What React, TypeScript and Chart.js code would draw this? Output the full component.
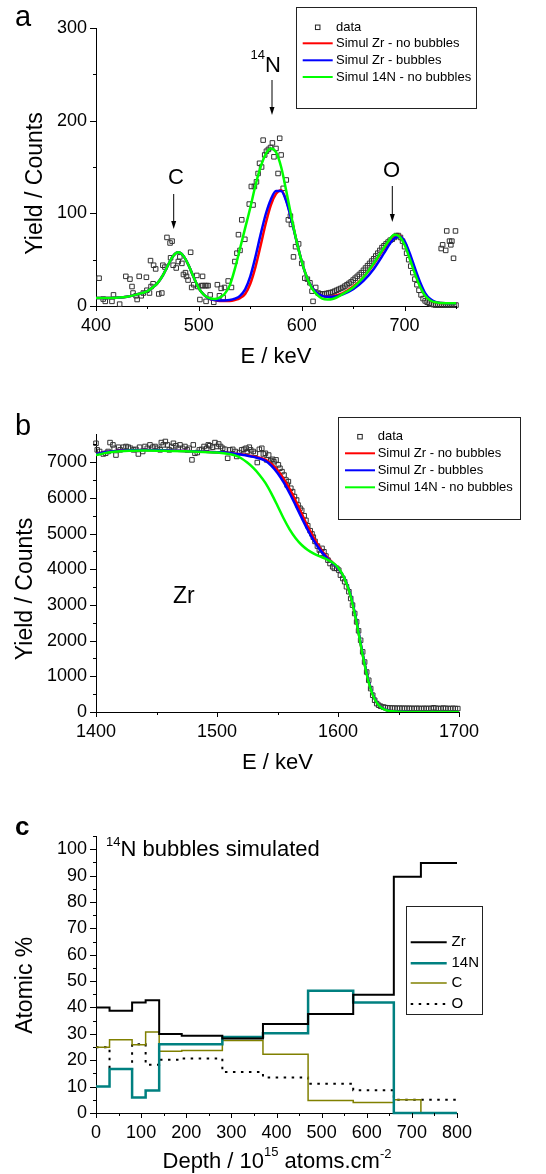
import React, { useEffect, useRef } from "react";
import { Chart, registerables } from "chart.js";

Chart.register(...registerables);

const FONT = "'Liberation Sans', Arial, Helvetica, sans-serif";

// ---------------- Panel a : yield vs energy (light elements) ----------------
const aScatterE = [
  403, 407, 409, 415.5, 417, 423, 429, 433, 435, 436,
  439, 440, 442, 444, 446, 449, 449.5, 452, 453, 453.5,
  455.5, 456, 458, 461, 464, 465, 467, 469, 472, 472.5,
  474, 475, 478, 480, 481.5, 483.5, 485, 487, 488, 489.5,
  492, 493, 495, 498, 499, 501, 502.6, 503.6, 504, 506,
  507, 507.5, 509, 511, 514.5, 518, 520, 521.7, 523.6, 525,
  528.5, 531.7, 535, 537, 538.5, 540, 541.7, 544.7, 549, 551,
  552.7, 554, 556, 557.6, 559, 561, 562.5, 564, 565.7, 567.6,
  569.6, 571.5, 573, 575, 577, 578.6, 580, 582, 585, 587,
  589, 590, 592, 594, 597, 600, 603, 605.5, 608, 610,
  611, 613.6, 616,
];
const aScatterY = [
  30, 7.5, 5, 5, 12, 2, 32, 29, 21, 14,
  11, 7, 32, 11, 14, 31, 17, 14, 49, 21,
  24, 44, 40, 13, 14, 44, 42, 74, 68, 52,
  70, 44, 41, 48, 53, 46, 34, 36, 32, 28,
  58, 20, 23, 33, 21, 7, 22, 32, 22, 22,
  5, 22, 22, 12, 4, 23, 11, 19, 9, 20,
  27, 20, 48, 57, 77, 60, 93, 72, 110, 129,
  109, 129, 134, 143, 154, 150, 179, 163, 167, 169,
  171, 176, 161, 170, 143, 181, 163, 127, 136, 93,
  97, 88, 53, 64, 67, 46, 30, 29, 25, 16,
  5, 20, 14,
];
const aDenseE = [
  618, 620, 622, 624, 626, 628, 630, 632, 634, 636, 638, 640, 642, 644, 646, 648, 650,
  652, 654, 656, 658, 660, 662, 664, 666, 668, 670, 672, 674, 676, 678, 680, 682, 684,
  686, 688, 690, 692, 694, 696, 698, 700, 702, 704, 706, 708, 710, 712, 714, 716, 718,
  720, 722, 724, 726, 728, 730, 732, 734, 736, 738, 740, 742, 744, 746, 748, 750,
];
const aDenseY = [
  13, 13, 13, 13.5, 14, 14.5, 15, 16, 17, 18, 19, 20, 21.5, 23, 24.5, 26, 28,
  30, 32, 34, 36, 38.5, 41, 43.5, 46, 48.5, 51, 54, 57, 60, 63, 65, 67, 69,
  71, 72, 74, 76, 76, 74, 70, 64, 57, 50, 43, 36, 29, 23, 17, 12, 8,
  5.5, 4, 3, 2, 1.5, 1, 1, 1, 1, 1, 1, 1, 1, 1, 1, 1,
];
const aRightE = [735.6, 737, 740, 741, 743.7, 745, 746, 747.6, 749.5];
const aRightY = [62, 66, 60, 81, 70, 66, 70, 51.5, 81];

const aCurveE = [
  400, 410, 420, 430, 440, 450, 455, 460, 465, 470, 475, 480, 485, 490, 495,
  500, 505, 510, 515, 520, 525, 530, 535, 540, 545, 550, 555, 560, 565, 570,
  575, 580, 585, 590, 595, 600, 605, 610, 615, 620, 625, 630, 640, 650, 660,
  670, 680, 685, 690, 695, 700, 705, 710, 715, 720, 725, 730, 740, 750,
];
const aGreen = [
  8.5, 8.5, 9, 10, 12.5, 16, 20, 25, 33, 44, 54, 58, 54, 44, 31,
  19, 12, 8.5, 7.5, 9, 13, 22, 40, 62, 84, 106, 130, 150, 164, 170,
  166, 150, 124, 96, 70, 48, 31, 19, 12, 8, 7, 7.5, 13, 20, 31,
  46, 63, 71, 77, 75, 66, 51, 35, 21, 11, 6, 4, 3, 3,
];
const aRed = [
  8.5, 8.5, 9, 10, 12.5, 16, 20, 25, 33, 44, 54, 58, 54, 44, 31,
  19, 12, 8, 6.5, 5.5, 5.5, 5.5, 6.5, 8.5, 13, 24, 42, 65, 89, 109,
  121, 125, 114, 94, 70, 48, 31, 20, 14, 11, 10, 10.5, 14, 21, 31,
  45, 62, 70, 76, 76, 68, 53, 37, 22, 12, 6.5, 4, 3, 3,
];
const aBlue = [
  8.5, 8.5, 9, 10, 12.5, 16, 20, 25, 33, 44, 54, 58, 54, 44, 31,
  19, 12, 8, 6.5, 6, 6, 6.5, 8, 11, 18, 32, 53, 77, 99, 115,
  124, 124, 113, 93, 70, 48, 31, 20, 14, 11, 10, 10, 12.5, 18, 27,
  40, 57, 66, 73, 75, 70, 57, 41, 26, 14, 7.5, 4.5, 3, 3,
];
const aXMajor = [400, 500, 600, 700];
const aXMinor = [450, 550, 650, 750];
const aYMajor = [0, 100, 200, 300];
const aYMinor = [50, 150, 250];

// ---------------- Panel b : yield vs energy (Zr edge) ----------------
const bDataE = [
  1400, 1401, 1403, 1406, 1408, 1410, 1411.6, 1414, 1415, 1416.5,
  1418.5, 1420, 1422.6, 1424.8, 1426.7, 1428.6, 1431, 1433, 1435, 1436,
  1438.6, 1440.5, 1442.4, 1444.6, 1446.8, 1448.8, 1450.7, 1453, 1454, 1455.6,
  1457.3, 1459, 1460.6, 1462.5, 1464, 1466, 1468, 1469.4, 1471.6, 1473.5,
  1475.5, 1477, 1479.3, 1480.4, 1481.8, 1483.7, 1485.4, 1487.3, 1489.3, 1491.5,
  1492.8, 1494, 1496.4, 1498.3, 1499.7, 1501.4, 1503, 1504.7, 1506.6, 1508.8,
  1510.7, 1513, 1515, 1516.3, 1518.5, 1520.4, 1522.3, 1524, 1525, 1526.7,
  1527.8, 1530, 1531.7, 1533.3, 1535, 1537, 1538.3, 1540, 1541, 1542.7,
  1544.4, 1546, 1547, 1548.8, 1550.7, 1552, 1553.7, 1555.4, 1557, 1558,
  1559, 1561, 1562.5, 1564, 1565.8, 1567, 1568.6, 1570, 1572, 1573.5,
  1575, 1577, 1578.5, 1579.6, 1581, 1583, 1584.6, 1585.7, 1586.8, 1588.4,
  1590, 1591.7, 1593.4, 1595.6, 1597, 1599, 1600.6, 1602, 1604, 1605.5,
  1607, 1609, 1610.5, 1612, 1613.8, 1615.4, 1617, 1618.7, 1620.4, 1622,
  1623.7, 1625.4, 1627, 1628.7, 1630.3, 1632, 1633.6, 1635.3, 1637.5,
  1639, 1641, 1643, 1645, 1647, 1649, 1651, 1653, 1655, 1657, 1659, 1661, 1663,
  1665, 1667, 1669, 1671, 1673, 1675, 1677, 1679, 1681, 1683, 1685, 1687, 1689,
  1691, 1693, 1695, 1697, 1699,
];
const bDataY = [
  7530, 7345, 7300, 7230, 7250, 7300, 7550, 7485, 7390, 7200,
  7420, 7345, 7420, 7440, 7420, 7390, 7345, 7360, 7230, 7420,
  7300, 7440, 7390, 7485, 7420, 7440, 7390, 7345, 7550, 7485,
  7580, 7485, 7345, 7440, 7530, 7460, 7390, 7485, 7390, 7440,
  7345, 7390, 7065, 7485, 7250, 7270, 7345, 7360, 7440, 7390,
  7485, 7460, 7420, 7550, 7440, 7510, 7440, 7390, 7360, 7110,
  7345, 7360, 7300, 7160, 7270, 7345, 7360, 7390, 7300, 7420,
  7345, 7300, 7250, 6990, 7360, 7390, 7230, 7250, 7065, 7200,
  7045, 7080, 7015, 7065, 6925, 6830, 6735, 6640, 6500, 6360,
  6455, 6270, 6175, 6035, 5940, 5800, 5710, 5650, 5500, 5370,
  5220, 5080, 4990, 4900, 4780, 4650, 4540, 4445, 4585, 4490,
  4370, 4255, 4160, 4070, 4025, 4025, 3975, 3835, 3740, 3650,
  3510, 3370, 3180, 2995, 2760, 2525, 2275, 2010, 1685, 1400,
  1120, 890, 655, 470, 330, 235, 190, 160, 140,
  125, 118, 112, 110, 108, 105, 108, 104, 106, 103, 105, 102, 100,
  104, 101, 99, 103, 100, 102, 98, 118, 105, 100, 98, 110, 102,
  100, 97, 104, 98, 96,
];
const bZrE = [
  1400, 1410, 1420, 1430, 1440, 1460, 1480, 1500, 1510, 1520, 1530, 1540, 1545,
  1550, 1555, 1560, 1565, 1570, 1575, 1580, 1585, 1590, 1595, 1600, 1605, 1610,
  1615, 1620, 1625, 1630, 1635, 1640, 1645, 1650, 1660, 1680, 1700,
];
const bRed = [
  7230, 7290, 7320, 7335, 7340, 7330, 7310, 7280, 7260, 7220, 7160, 7070, 6950,
  6780, 6540, 6250, 5920, 5560, 5200, 4880, 4600, 4380, 4200, 4030, 3760, 3300,
  2580, 1680, 900, 390, 150, 55, 20, 8, 3, 0, 0,
];
const bBlue = [
  7230, 7290, 7320, 7335, 7340, 7330, 7310, 7280, 7260, 7215, 7150, 7040, 6900,
  6700, 6440, 6130, 5790, 5440, 5100, 4800, 4550, 4350, 4190, 4030, 3770, 3320,
  2600, 1700, 910, 395, 150, 55, 20, 8, 3, 0, 0,
];
const bGreenE = [
  1400, 1410, 1420, 1430, 1440, 1460, 1480, 1500, 1510, 1515, 1520, 1525, 1530,
  1535, 1540, 1545, 1550, 1555, 1560, 1565, 1570, 1575, 1580, 1585, 1590, 1595,
  1600, 1605, 1610, 1615, 1620, 1625, 1630, 1635, 1640, 1645, 1650, 1660, 1680, 1700,
];
const bGreen = [
  7200, 7270, 7310, 7320, 7325, 7315, 7300, 7270, 7230, 7190, 7110, 6990, 6840,
  6650, 6420, 6120, 5780, 5430, 5120, 4870, 4680, 4540, 4440, 4360, 4290, 4200,
  4050, 3770, 3300, 2570, 1660, 880, 380, 145, 50, 18, 7, 3, 0, 0,
];
const bXMajor = [1400, 1500, 1600, 1700];
const bXMinor = [1450, 1550, 1650];
const bYMajor = [0, 1000, 2000, 3000, 4000, 5000, 6000, 7000];
const bYMinor = [500, 1500, 2500, 3500, 4500, 5500, 6500, 7500];

// ---------------- Panel c : depth profile ----------------
const cEdges = [0, 30, 80, 110, 140, 190, 280, 370, 470, 570, 660, 720, 800];
const cZr = [40.0, 38.8, 41.9, 42.7, 29.9, 29.3, 28.2, 33.7, 37.5, 44.8, 89.6, 94.8];
const cN14 = [10.0, 16.7, 5.9, 8.5, 26.1, 26.1, 28.8, 30.2, 46.3, 41.9, 0, 0];
const cC = [24.9, 27.8, 25.9, 30.7, 23.4, 23.7, 27.5, 22.3, 4.7, 4.0, 5.0, 0];
const cO = [24.9, 16.7, 26.1, 18.3, 20.2, 20.7, 15.5, 13.5, 11.1, 8.6, 5.0, 5.0];
const cXMajor = [0, 100, 200, 300, 400, 500, 600, 700, 800];
const cXMinor = [50, 150, 250, 350, 450, 550, 650, 750];
const cYMajor = [0, 10, 20, 30, 40, 50, 60, 70, 80, 90, 100];
const cYMinor = [5, 15, 25, 35, 45, 55, 65, 75, 85, 95, 105];

// ---------------- helpers ----------------
const pts = (xs: number[], ys: number[]) => xs.map((x, i) => ({ x, y: ys[i] }));
const stepPts = (edges: number[], vals: number[]) => {
  const out: { x: number; y: number }[] = [];
  vals.forEach((v, i) => {
    out.push({ x: edges[i], y: v });
    out.push({ x: edges[i + 1], y: v });
  });
  return out;
};
const F = (size: number, weight = "normal") => `${weight} ${size}px ${FONT}`;

function drawText(ctx: CanvasRenderingContext2D, s: string, x: number, y: number, size: number,
  align: CanvasTextAlign = "left", baseline: CanvasTextBaseline = "alphabetic", weight = "normal") {
  ctx.save();
  ctx.fillStyle = "#000";
  ctx.font = F(size, weight);
  ctx.textAlign = align;
  ctx.textBaseline = baseline;
  ctx.fillText(s, x, y);
  ctx.restore();
}
function drawRotated(ctx: CanvasRenderingContext2D, s: string, cx: number, cy: number, size: number) {
  ctx.save();
  ctx.translate(cx, cy);
  ctx.rotate(-Math.PI / 2);
  ctx.fillStyle = "#000";
  ctx.font = F(size);
  ctx.textAlign = "center";
  ctx.textBaseline = "middle";
  ctx.fillText(s, 0, 0);
  ctx.restore();
}
function drawRich(ctx: CanvasRenderingContext2D, parts: { t: string; size: number; dy: number }[],
  x: number, y: number, center: boolean) {
  ctx.save();
  ctx.fillStyle = "#000";
  ctx.textBaseline = "alphabetic";
  ctx.textAlign = "left";
  const widths = parts.map((p) => { ctx.font = F(p.size); return ctx.measureText(p.t).width; });
  let cx = center ? x - widths.reduce((a, b) => a + b, 0) / 2 : x;
  parts.forEach((p, i) => {
    ctx.font = F(p.size);
    ctx.fillText(p.t, cx, y + p.dy);
    cx += widths[i];
  });
  ctx.restore();
}
function drawArrow(ctx: CanvasRenderingContext2D, x: number, y0: number, y1: number) {
  ctx.save();
  ctx.strokeStyle = "#000";
  ctx.fillStyle = "#000";
  ctx.lineWidth = 1;
  ctx.beginPath();
  ctx.moveTo(x, y0);
  ctx.lineTo(x, y1 - 6);
  ctx.stroke();
  ctx.beginPath();
  ctx.moveTo(x - 2.5, y1 - 8);
  ctx.lineTo(x + 2.5, y1 - 8);
  ctx.lineTo(x, y1);
  ctx.closePath();
  ctx.fill();
  ctx.restore();
}
function drawTicks(chart: any, xMaj: number[], xMin: number[], yMaj: number[], yMin: number[]) {
  const ctx: CanvasRenderingContext2D = chart.ctx;
  const xs = chart.scales.x;
  const ys = chart.scales.y;
  const ca = chart.chartArea;
  ctx.save();
  ctx.strokeStyle = "#000";
  ctx.lineWidth = 1;
  ctx.beginPath();
  const xt = (v: number, len: number) => {
    const p = Math.round(xs.getPixelForValue(v)) + 0.5;
    ctx.moveTo(p, ca.bottom);
    ctx.lineTo(p, ca.bottom + len);
  };
  const yt = (v: number, len: number) => {
    const p = Math.round(ys.getPixelForValue(v)) + 0.5;
    ctx.moveTo(ca.left - len, p);
    ctx.lineTo(ca.left, p);
  };
  xMaj.forEach((v) => xt(v, 5));
  xMin.forEach((v) => xt(v, 3));
  yMaj.forEach((v) => yt(v, 6));
  yMin.forEach((v) => yt(v, 3));
  ctx.stroke();
  ctx.restore();
}
type LegRow = { y: number; label: string; color: string; width: number; dash?: number[]; marker?: boolean };
function drawLegend(ctx: CanvasRenderingContext2D, box: number[], rows: LegRow[], lx0: number, lx1: number,
  tx: number, size: number) {
  ctx.save();
  ctx.strokeStyle = "#222";
  ctx.lineWidth = 1;
  ctx.strokeRect(Math.round(box[0]) + 0.5, Math.round(box[1]) + 0.5, Math.round(box[2] - box[0]), Math.round(box[3] - box[1]));
  rows.forEach((r) => {
    if (r.marker) {
      const cx = (lx0 + lx1) / 2;
      ctx.setLineDash([]);
      ctx.strokeStyle = "#222";
      ctx.lineWidth = 1;
      ctx.strokeRect(cx - 2.25, r.y - 2.25, 4.5, 4.5);
    } else {
      ctx.setLineDash(r.dash || []);
      ctx.strokeStyle = r.color;
      ctx.lineWidth = r.width;
      ctx.beginPath();
      ctx.moveTo(lx0, r.y);
      ctx.lineTo(lx1, r.y);
      ctx.stroke();
    }
    ctx.setLineDash([]);
    ctx.fillStyle = "#000";
    ctx.font = F(size);
    ctx.textAlign = "left";
    ctx.textBaseline = "middle";
    ctx.fillText(r.label, tx, r.y);
  });
  ctx.restore();
}

type AxisSpec = {
  xMin: number; xMax: number; xMajor: number[];
  yMin: number; yMax: number; yMajor: number[];
  top: number; right: number; xHeight: number;
};
function makeOptions(p: AxisSpec) {
  const tickFont = { family: FONT, size: 18 };
  return {
    responsive: false,
    maintainAspectRatio: false,
    animation: false,
    devicePixelRatio: 1,
    events: [],
    layout: { padding: { top: p.top, right: p.right, bottom: 0, left: 0 } },
    plugins: { legend: { display: false }, tooltip: { enabled: false }, title: { display: false } },
    scales: {
      x: {
        type: "linear",
        min: p.xMin,
        max: p.xMax,
        grid: { display: true, drawOnChartArea: false, drawTicks: false },
        border: { display: true, color: "#000", width: 1 },
        ticks: {
          autoSkip: false, maxRotation: 0, padding: 9, color: "#000", font: tickFont,
          callback: (v: number) => String(v),
        },
        afterBuildTicks: (s: any) => { s.ticks = p.xMajor.map((v) => ({ value: v })); },
        afterFit: (s: any) => { s.height = p.xHeight; },
      },
      y: {
        type: "linear",
        min: p.yMin,
        max: p.yMax,
        grid: { display: true, drawOnChartArea: false, drawTicks: false },
        border: { display: true, color: "#000", width: 1 },
        ticks: {
          autoSkip: false, padding: 9, color: "#000", font: tickFont,
          callback: (v: number) => String(v),
        },
        afterBuildTicks: (s: any) => { s.ticks = p.yMajor.map((v) => ({ value: v })); },
        afterFit: (s: any) => { s.width = 96; },
      },
    },
  };
}

const curve = (label: string, data: any[], color: string) => ({
  label, data, borderColor: color, backgroundColor: color, borderWidth: 2.5,
  pointRadius: 0, cubicInterpolationMode: "monotone", fill: false,
});
const scatter = (label: string, data: any[]) => ({
  label, data, showLine: false, pointStyle: "rect", pointRadius: 3.2,
  pointBorderWidth: 1, pointBorderColor: "#333", pointBackgroundColor: "rgba(255,255,255,0)",
  borderColor: "#333", backgroundColor: "rgba(255,255,255,0)", clip: false,
});

// ---------------- chart builders ----------------
function makeA(canvas: HTMLCanvasElement) {
  const data = [...pts(aScatterE, aScatterY), ...pts(aDenseE, aDenseY), ...pts(aRightE, aRightY)];
  const decor = {
    id: "decorA",
    afterDraw(chart: any) {
      const ctx = chart.ctx as CanvasRenderingContext2D;
      drawTicks(chart, aXMajor, aXMinor, aYMajor, aYMinor);
      drawText(ctx, "a", 15, 26, 29);
      drawRotated(ctx, "Yield / Counts", 36, 183.5, 23);
      drawText(ctx, "E / keV", 276, 357, 22, "center", "middle");
      drawText(ctx, "C", 168, 184, 22);
      drawArrow(ctx, 173.7, 194, 229);
      drawRich(ctx, [{ t: "14", size: 13, dy: -13 }, { t: "N", size: 22, dy: 0 }], 250.5, 72, false);
      drawArrow(ctx, 272, 80, 115);
      drawText(ctx, "O", 383, 177, 22);
      drawArrow(ctx, 392.3, 186, 222);
      drawLegend(ctx, [296, 7, 476, 108], [
        { y: 27.3, label: "data", color: "#333", width: 1, marker: true },
        { y: 43.3, label: "Simul Zr - no bubbles", color: "#ff0000", width: 2 },
        { y: 60.3, label: "Simul Zr - bubbles", color: "#0000ff", width: 2 },
        { y: 77, label: "Simul 14N - no bubbles", color: "#00ff00", width: 2 },
      ], 302.7, 332.7, 336, 13);
    },
  };
  return new Chart(canvas, {
    type: "line",
    data: {
      datasets: [
        curve("Simul 14N - no bubbles", pts(aCurveE, aGreen), "#00ff00"),
        curve("Simul Zr - bubbles", pts(aCurveE, aBlue), "#0000ff"),
        curve("Simul Zr - no bubbles", pts(aCurveE, aRed), "#ff0000"),
        scatter("data", data),
      ],
    },
    options: makeOptions({
      xMin: 400, xMax: 750, xMajor: aXMajor,
      yMin: 0, yMax: 300, yMajor: aYMajor,
      top: 28, right: 90, xHeight: 84,
    }) as any,
    plugins: [decor],
  });
}

function makeB(canvas: HTMLCanvasElement) {
  const decor = {
    id: "decorB",
    afterDraw(chart: any) {
      const ctx = chart.ctx as CanvasRenderingContext2D;
      drawTicks(chart, bXMajor, bXMinor, bYMajor, bYMinor);
      drawText(ctx, "b", 15, 45, 29);
      drawRotated(ctx, "Yield / Counts", 25.5, 199, 23);
      drawText(ctx, "E / keV", 277.5, 373, 22, "center", "middle");
      drawText(ctx, "Zr", 173, 213, 23);
      drawLegend(ctx, [337.7, 26.7, 520, 128.3], [
        { y: 46.7, label: "data", color: "#333", width: 1, marker: true },
        { y: 63.3, label: "Simul Zr - no bubbles", color: "#ff0000", width: 2 },
        { y: 80.3, label: "Simul Zr - bubbles", color: "#0000ff", width: 2 },
        { y: 97.3, label: "Simul 14N - no bubbles", color: "#00ff00", width: 2 },
      ], 345, 375, 377.7, 13);
    },
  };
  return new Chart(canvas, {
    type: "line",
    data: {
      datasets: [
        curve("Simul 14N - no bubbles", pts(bGreenE, bGreen), "#00ff00"),
        curve("Simul Zr - bubbles", pts(bZrE, bBlue), "#0000ff"),
        curve("Simul Zr - no bubbles", pts(bZrE, bRed), "#ff0000"),
        scatter("data", pts(bDataE, bDataY)),
      ],
    },
    options: makeOptions({
      xMin: 1400, xMax: 1700, xMajor: bXMajor,
      yMin: 0, yMax: 7790, yMajor: bYMajor,
      top: 44, right: 87, xHeight: 78,
    }) as any,
    plugins: [decor],
  });
}

function makeC(canvas: HTMLCanvasElement) {
  const decor = {
    id: "decorC",
    afterDraw(chart: any) {
      const ctx = chart.ctx as CanvasRenderingContext2D;
      drawTicks(chart, cXMajor, cXMinor, cYMajor, cYMinor);
      drawText(ctx, "c", 15, 45, 26, "left", "alphabetic", "bold");
      drawRotated(ctx, "Atomic %", 26, 195.3, 23);
      drawRich(ctx, [
        { t: "Depth / 10", size: 22, dy: 0 },
        { t: "15", size: 13, dy: -12 },
        { t: " atoms.cm", size: 22, dy: 0 },
        { t: "-2", size: 13, dy: -10.5 },
      ], 277, 378, true);
      drawRich(ctx, [{ t: "14", size: 13, dy: -10.5 }, { t: "N bubbles simulated", size: 22, dy: 0 }], 106, 66, false);
      drawLegend(ctx, [406, 116, 481.7, 224], [
        { y: 152.3, label: "Zr", color: "#000000", width: 2 },
        { y: 173.3, label: "14N", color: "#008080", width: 2.5 },
        { y: 193, label: "C", color: "#808000", width: 1.5 },
        { y: 214, label: "O", color: "#000000", width: 2, dash: [2.5, 5.5] },
      ], 410.7, 446.7, 451.5, 15);
    },
  };
  const stepSet = (label: string, data: any[], color: string, width: number, dash?: number[]) => ({
    label, data, borderColor: color, backgroundColor: color, borderWidth: width,
    borderDash: dash || [], pointRadius: 0, tension: 0, fill: false, clip: false,
  });
  return new Chart(canvas, {
    type: "line",
    data: {
      datasets: [
        stepSet("Zr", stepPts(cEdges, cZr), "#000000", 2),
        stepSet("14N", stepPts(cEdges, cN14), "#008080", 2.5),
        stepSet("C", stepPts(cEdges, cC), "#808000", 1.5),
        stepSet("O", stepPts(cEdges, cO), "#000000", 2, [2.5, 5.5]),
      ],
    },
    options: makeOptions({
      xMin: 0, xMax: 800, xMajor: cXMajor,
      yMin: 0, yMax: 105, yMajor: cYMajor,
      top: 46, right: 89, xHeight: 61,
    }) as any,
    plugins: [decor],
  });
}

function Panel({ top, height, make }: { top: number; height: number; make: (c: HTMLCanvasElement) => Chart }) {
  const ref = useRef<HTMLCanvasElement | null>(null);
  useEffect(() => {
    const chart = make(ref.current as HTMLCanvasElement);
    return () => chart.destroy();
  }, []);
  return (
    <canvas
      ref={ref}
      width={546}
      height={height}
      style={{ position: "absolute", left: 0, top, width: 546, height, display: "block" }}
    />
  );
}

export default function App() {
  return (
    <div style={{ position: "absolute", left: 0, top: 0, width: 546, height: 1174, background: "#fff", overflow: "hidden" }}>
      <Panel top={0} height={390} make={makeA} />
      <Panel top={390} height={400} make={makeB} />
      <Panel top={790} height={384} make={makeC} />
    </div>
  );
}
